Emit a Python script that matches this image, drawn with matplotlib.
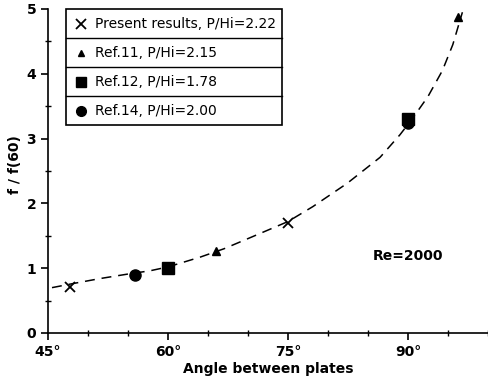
import matplotlib.pyplot as plt
from matplotlib.lines import Line2D
from matplotlib.ticker import MultipleLocator, FuncFormatter

# measured / reference data points (angle in degrees, f/f(60))
present_angle = [47.8, 75.0]
present_f = [0.71, 1.70]

ref11_angle = [66.0, 96.3]
ref11_f = [1.27, 4.88]

ref12_angle = [60.0, 90.0]
ref12_f = [1.01, 3.30]

ref14_angle = [55.9, 90.0]
ref14_f = [0.89, 3.24]

# dashed correlation curve
curve_angle = [45.5, 48, 51.5, 55, 57.75, 60, 64, 67, 70.25, 75, 78.1, 82.4, 86.5,
               89, 90.5, 92.5, 94.3, 95.6, 96.8]
curve_f = [0.70, 0.76, 0.84, 0.91, 0.96, 1.02, 1.17, 1.30, 1.47, 1.72, 1.95, 2.31, 2.71,
           3.06, 3.30, 3.65, 4.05, 4.45, 4.95]

legend_labels = ["Present results, P/Hi=2.22", "Ref.11, P/Hi=2.15",
                 "Ref.12, P/Hi=1.78", "Ref.14, P/Hi=2.00"]

fig = plt.figure(figsize=(4.88, 3.85), dpi=100)
ax = fig.add_axes([48 / 488, 52 / 385, 440 / 488, 324 / 385])

ax.plot(curve_angle, curve_f, color="black", lw=1.1, dashes=(6.5, 4.5))
ax.plot(present_angle, present_f, "x", color="black", ms=7, mew=1.3)
ax.plot(ref14_angle, ref14_f, "o", color="black", ms=8)
ax.plot(ref12_angle, ref12_f, "s", color="black", ms=8)
ax.plot(ref11_angle, ref11_f, "^", color="black", ms=6)

ax.set_xlim(45, 100)
ax.set_ylim(0, 5)
for side in ["top", "right"]:
    ax.spines[side].set_visible(False)
for side in ["left", "bottom"]:
    ax.spines[side].set_linewidth(1.2)

ax.xaxis.set_major_locator(MultipleLocator(15))
ax.xaxis.set_minor_locator(MultipleLocator(5))
ax.yaxis.set_major_locator(MultipleLocator(1))
ax.yaxis.set_minor_locator(MultipleLocator(0.5))
ax.xaxis.set_major_formatter(FuncFormatter(lambda v, p: f"{v:.0f}°" if v < 100 else ""))
ax.tick_params(which="major", direction="out", length=5, width=1.2, labelsize=10)
ax.tick_params(which="minor", direction="inout", length=4, width=1.0)
for lab in ax.get_xticklabels() + ax.get_yticklabels():
    lab.set_fontweight("bold")

ax.set_xlabel("Angle between plates", fontsize=10, fontweight="bold", labelpad=2)
ax.set_ylabel("f / f(60)", fontsize=10, fontweight="bold")
ax.yaxis.set_label_coords(-0.06, 0.52)

ax.text(85.6, 1.19, "Re=2000", fontsize=10, fontweight="bold", va="center")

# boxed legend with a separator line between each entry
x0, x1 = 18 / 440, 234 / 440
top, row_h = 1.0, 29 / 324
ax.add_patch(plt.Rectangle((x0, top - 4 * row_h), x1 - x0, 4 * row_h,
                           transform=ax.transAxes, fill=False, lw=1.2, clip_on=False))
for i in range(1, 4):
    ax.add_line(Line2D([x0, x1], [top - i * row_h] * 2, transform=ax.transAxes,
                       color="black", lw=1.0))
markers = [("x", 7, 1.3), ("^", 5, 1.0), ("s", 7, 1.0), ("o", 7, 1.0)]
for i, (label, (m, ms, mew)) in enumerate(zip(legend_labels, markers)):
    yc = top - (i + 0.5) * row_h
    ax.add_line(Line2D([33 / 440], [yc], transform=ax.transAxes, marker=m,
                       ms=ms, mew=mew, color="black", ls="none"))
    ax.text(47 / 440, yc, label, transform=ax.transAxes, fontsize=10,
            va="center", ha="left")

fig.savefig("out.png", dpi=100)
